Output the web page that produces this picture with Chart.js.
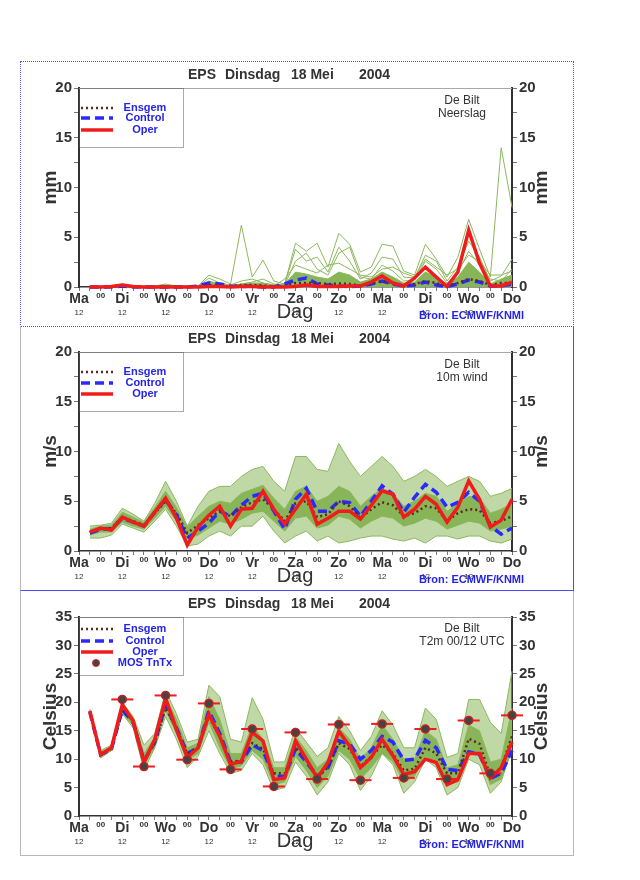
<!DOCTYPE html>
<html>
<head>
<meta charset="utf-8">
<script src="https://cdn.jsdelivr.net/npm/chart.js@4.4.1/dist/chart.umd.min.js"></script>
<style>
  body { margin: 0; background: #fff; width: 640px; height: 880px; position: relative; overflow: hidden; }
  .panel { position: absolute; left: 20px; width: 552px; height: 264px; }
  .panel canvas { position: absolute; left: 0; top: 0; }
  #p1 { top: 61px; border: 1px dotted #4a4aff; }
  #p2 { top: 326px; border-left: 1px solid #b8b8b8; border-right: 1px solid #4a4aff; border-bottom: 1px solid #4a4aff; }
  #p3 { top: 591px; border-left: 1px solid #b8b8b8; border-right: 1px solid #b8b8b8; border-bottom: 1px solid #b8b8b8; }
</style>
</head>
<body>
<div class="panel" id="p1"><canvas id="rainChart" width="552" height="264"></canvas></div>
<div class="panel" id="p2"><canvas id="windChart" width="552" height="264"></canvas></div>
<div class="panel" id="p3"><canvas id="tempChart" width="552" height="264"></canvas></div>
<script>
// forecast steps (days after Ma 12 UTC), 6-hourly
const leadDays = [0.25, 0.5, 0.75, 1, 1.25, 1.5, 1.75, 2, 2.25, 2.5, 2.75, 3, 3.25, 3.5, 3.75, 4, 4.25, 4.5, 4.75, 5,
  5.25, 5.5, 5.75, 6, 6.25, 6.5, 6.75, 7, 7.25, 7.5, 7.75, 8, 8.25, 8.5, 8.75, 9, 9.25, 9.5, 9.75, 10];
const dayNames = ['Ma', 'Di', 'Wo', 'Do', 'Vr', 'Za', 'Zo', 'Ma', 'Di', 'Wo', 'Do'];

// Neerslag (mm)
const rainOper = [0, 0, 0.05, 0.2, 0.05, 0, 0, 0, 0, 0, 0, 0.05, 0.05, 0, 0.05, 0.05, 0, 0, 0, 0.05,
  0.2, 0.05, 0.05, 0.05, 0.1, 0.1, 0.5, 1.1, 0.4, 0.1, 0.9, 2.0, 1.0, 0.05, 1.5, 5.7, 2.4, 0.1, 0.1, 0.5];
const rainControl = [0, 0, 0, 0.1, 0, 0, 0, 0, 0, 0, 0.1, 0.4, 0.3, 0.1, 0.05, 0.1, 0, 0, 0.3, 0.7,
  0.9, 0.3, 0.2, 0.1, 0.05, 0.1, 0.3, 0.6, 0.3, 0.1, 0.2, 0.5, 0.2, 0.05, 0.3, 0.7, 0.5, 0.1, 0.1, 0.3];
const rainMean = [0, 0, 0.02, 0.1, 0.02, 0, 0, 0.05, 0, 0, 0.05, 0.2, 0.15, 0.05, 0.2, 0.2, 0.15, 0.05, 0.1, 0.4,
  0.4, 0.4, 0.3, 0.35, 0.3, 0.15, 0.3, 0.6, 0.4, 0.2, 0.3, 0.6, 0.4, 0.1, 0.4, 0.8, 0.6, 0.2, 0.4, 0.4];
const rainMax = [0.05, 0.05, 0.1, 0.3, 0.1, 0.05, 0.1, 0.3, 0.1, 0.1, 0.1, 1.2, 0.8, 0.3, 6.2, 1.0, 2.7, 0.6, 0.3, 4.4,
  3.6, 4.4, 2.0, 5.4, 4.3, 1.5, 2.0, 4.3, 4.1, 1.6, 1.2, 4.3, 2.8, 1.0, 3.0, 6.8, 3.8, 1.0, 14.0, 8.0];
const rainMemberA = [0, 0, 0.05, 0.2, 0.05, 0, 0.05, 0.2, 0.05, 0, 0.05, 0.9, 0.4, 0.2, 0.6, 0.8, 0.4, 0.2, 0.3, 3.8,
  2.6, 3.0, 1.5, 4.0, 2.6, 0.8, 1.4, 3.0, 2.8, 1.0, 0.9, 3.2, 2.6, 0.6, 2.0, 4.6, 3.0, 0.6, 1.1, 2.8];
const rainMemberB = [0, 0, 0, 0.1, 0, 0, 0, 0.1, 0, 0, 0, 0.6, 0.3, 0.1, 0.3, 0.5, 0.8, 0.3, 0.2, 2.6,
  3.4, 1.8, 1.2, 3.4, 4.0, 1.0, 0.8, 2.2, 1.6, 0.6, 0.7, 2.6, 1.8, 0.4, 1.4, 3.6, 2.2, 0.8, 0.6, 1.8];
const rainMemberC = [0, 0, 0, 0.1, 0, 0, 0, 0.05, 0, 0, 0, 0.3, 0.2, 0.1, 0.2, 0.3, 0.2, 0.1, 0.8, 2.2,
  1.8, 1.4, 2.2, 2.4, 1.8, 1.2, 1.0, 1.8, 2.0, 1.4, 1.0, 2.8, 2.0, 1.2, 1.8, 3.2, 2.6, 1.2, 1.2, 1.6];
const rainCore = [0.02, 0.02, 0.05, 0.15, 0.05, 0.02, 0.02, 0.1, 0.02, 0.02, 0.05, 0.5, 0.3, 0.1, 0.3, 0.4, 0.4, 0.2, 0.3, 1.5,
  1.3, 1.0, 0.8, 1.5, 1.2, 0.5, 0.8, 1.5, 1.0, 0.4, 0.5, 1.5, 1.0, 0.3, 1.0, 2.5, 1.5, 0.3, 0.8, 1.2];

// 10m wind (m/s)
const windOper = [1.9, 2.3, 2.1, 3.4, 2.9, 2.5, 3.9, 5.3, 3.3, 0.6, 2.4, 3.6, 4.5, 2.5, 4.2, 4.3, 6.0, 4.2, 2.7, 4.2,
  5.7, 2.7, 3.3, 4.0, 4.0, 3.2, 4.6, 6.05, 5.7, 3.4, 4.2, 5.5, 4.7, 2.9, 4.4, 7.05, 5.2, 2.4, 3.1, 5.2];
const windControl = [1.8, 2.2, 2.2, 3.3, 2.9, 2.5, 3.9, 5.2, 3.6, 1.3, 2.0, 2.8, 4.0, 3.5, 4.6, 5.5, 5.8, 4.0, 2.2, 5.2,
  6.3, 4.0, 4.0, 5.0, 4.85, 3.5, 5.0, 6.55, 5.7, 3.9, 5.4, 6.7, 5.9, 4.4, 4.9, 5.9, 5.0, 2.5, 1.7, 2.3];
const windMean = [1.9, 2.2, 2.3, 3.4, 3.0, 2.6, 3.8, 5.0, 3.8, 1.8, 2.6, 3.3, 4.0, 3.5, 4.4, 4.9, 5.2, 4.2, 3.0, 4.8,
  5.0, 3.4, 3.7, 5.0, 4.5, 3.3, 4.2, 4.9, 4.6, 3.5, 3.8, 4.5, 4.3, 3.0, 3.8, 4.2, 4.1, 2.8, 3.0, 3.5];
const windMax = [2.5, 2.6, 2.8, 4.3, 3.7, 3.0, 4.8, 7.0, 5.0, 2.5, 4.5, 6.0, 6.5, 6.5, 7.5, 8.2, 8.5, 7.0, 6.0, 9.5,
  9.5, 8.2, 8.0, 10.8, 9.0, 7.5, 8.5, 9.5, 8.5, 7.0, 7.5, 8.2, 7.5, 6.5, 7.0, 7.5, 7.0, 5.5, 5.8, 6.3];
const windMin = [1.3, 1.3, 1.6, 2.7, 2.3, 1.9, 3.0, 4.2, 2.5, 0.5, 0.7, 1.5, 2.0, 1.5, 2.5, 2.5, 3.5, 2.0, 0.8, 1.5,
  2.0, 1.0, 1.5, 0.8, 1.0, 1.3, 1.5, 1.5, 1.2, 1.0, 1.3, 0.8, 1.5, 1.5, 1.2, 1.5, 1.5, 1.0, 0.8, 1.2];
const windCoreHi = [2.2, 2.5, 2.6, 3.9, 3.4, 2.9, 4.4, 6.0, 4.4, 2.4, 3.5, 4.5, 5.0, 4.8, 5.8, 6.2, 6.6, 5.3, 4.2, 6.0,
  6.5, 5.0, 5.5, 6.5, 6.0, 4.5, 5.5, 6.3, 5.8, 4.5, 5.0, 5.8, 5.5, 4.0, 4.7, 5.5, 5.3, 3.8, 4.2, 4.8];
const windCoreLo = [1.6, 1.9, 1.9, 2.9, 2.5, 2.2, 3.3, 4.5, 3.0, 1.2, 1.6, 2.3, 3.0, 2.7, 3.2, 3.8, 4.0, 3.0, 2.0, 3.3,
  3.5, 2.3, 2.6, 3.5, 3.2, 2.3, 3.0, 3.5, 3.3, 2.5, 2.8, 3.3, 3.0, 2.2, 2.6, 3.0, 2.8, 2.0, 2.2, 2.5];

// T2m (Celsius)
const tempOper = [18.5, 10.8, 12.0, 19.6, 16.7, 9.4, 13.5, 20.7, 15.2, 10.3, 12.0, 17.9, 14.0, 9.1, 9.6, 14.7, 13.2, 6.4, 6.7, 13.2,
  10.0, 6.7, 9.4, 14.9, 12.3, 8.5, 10.3, 13.5, 10.6, 7.3, 7.8, 10.0, 9.4, 5.5, 6.4, 11.0, 11.0, 6.7, 8.5, 13.0];
const tempControl = [18.3, 10.8, 11.8, 18.7, 16.5, 9.7, 13.0, 19.5, 15.5, 11.0, 12.0, 18.5, 14.5, 9.5, 9.5, 12.5, 11.5, 7.0, 7.0, 11.8,
  9.5, 7.0, 8.5, 13.2, 12.7, 10.0, 11.5, 14.0, 13.0, 9.8, 10.0, 13.3, 12.0, 8.2, 8.0, 11.3, 10.8, 6.6, 7.5, 11.5];
const tempMean = [18.3, 10.8, 11.8, 18.5, 16.8, 9.8, 12.8, 19.0, 15.5, 11.0, 12.0, 17.5, 14.0, 9.5, 9.8, 12.8, 11.8, 7.5, 7.5, 12.0,
  9.8, 7.0, 8.5, 12.8, 11.8, 8.7, 10.5, 12.5, 11.0, 8.0, 8.3, 12.0, 11.0, 7.5, 7.5, 13.6, 12.7, 7.0, 8.5, 14.0];
const tempMax = [18.8, 11.5, 12.5, 20.0, 17.5, 12.5, 14.5, 22.0, 18.0, 13.0, 13.5, 23.0, 21.0, 13.5, 13.0, 20.8, 17.0, 9.5, 9.5, 15.5,
  13.0, 10.5, 12.0, 17.5, 15.0, 11.5, 14.0, 18.5, 16.0, 12.0, 12.0, 19.0, 17.0, 10.3, 11.0, 20.5, 20.5, 16.5, 14.5, 25.5];
const tempMin = [18.0, 10.2, 11.5, 18.0, 15.5, 8.0, 12.0, 17.5, 13.5, 8.5, 10.5, 15.0, 11.0, 7.5, 8.0, 11.0, 9.0, 4.5, 5.0, 9.5,
  7.0, 3.7, 6.0, 11.0, 9.0, 4.5, 7.0, 11.0, 9.0, 4.0, 6.0, 10.0, 8.5, 3.7, 5.0, 10.0, 9.0, 4.0, 6.0, 12.0];
const tempCoreHi = [18.6, 11.2, 12.3, 19.5, 17.2, 11.0, 13.8, 21.0, 17.0, 12.0, 12.8, 21.0, 17.0, 11.0, 11.0, 16.0, 13.5, 8.5, 8.5, 14.0,
  11.5, 8.5, 10.0, 15.5, 13.5, 10.0, 12.0, 16.0, 13.5, 10.0, 10.0, 15.0, 13.5, 8.5, 9.0, 16.0, 15.0, 9.5, 10.0, 19.0];
const tempCoreLo = [18.1, 10.4, 11.6, 18.0, 16.0, 8.8, 12.2, 18.5, 14.5, 9.8, 11.0, 16.5, 12.0, 8.3, 8.8, 11.5, 10.0, 5.5, 6.0, 10.5,
  8.0, 5.0, 7.0, 11.5, 10.0, 6.5, 8.5, 11.0, 9.5, 6.0, 7.0, 10.5, 9.5, 5.5, 6.0, 11.0, 10.5, 5.5, 6.5, 11.5];
const mosDays = [1, 1.5, 2, 2.5, 3, 3.5, 4, 4.5, 5, 5.5, 6, 6.5, 7, 7.5, 8, 8.5, 9, 9.5, 10];
const mosTemp = [20.5, 8.7, 21.2, 9.9, 19.8, 8.2, 15.3, 5.2, 14.7, 6.5, 16.1, 6.3, 16.2, 6.7, 15.3, 6.5, 16.8, 7.5, 17.7];

const FONT = "'Liberation Sans', Arial, Helvetica, sans-serif";
const GREEN = '#8cb85c';
const RED = '#f01c1c';
const BLUE = '#2a2aff';
const MEANCOL = '#5e2a1c';
const INK = '#333333';

function series(xs, ys) {
  return xs.map((x, i) => ({ x: x, y: ys[i] }));
}

function lineSet(ys, style) {
  return Object.assign({ data: series(leadDays, ys), pointRadius: 0, tension: 0, clip: 6, fill: false }, style);
}

function mainSets(mean, control, oper) {
  return [
    lineSet(mean, { label: 'Ensgem', borderColor: MEANCOL, borderWidth: 2.5, borderDash: [2, 3], order: 3 }),
    lineSet(control, { label: 'Control', borderColor: BLUE, borderWidth: 3.5, borderDash: [9, 5], order: 4 }),
    lineSet(oper, { label: 'Oper', borderColor: RED, borderWidth: 3.5, order: 2 })
  ];
}

function plumeSets(max, min, hi, lo) {
  return [
    lineSet(max, { borderColor: GREEN, borderWidth: 1, fill: '+1', backgroundColor: 'rgba(140,184,92,0.55)', order: 9 }),
    lineSet(min, { borderColor: GREEN, borderWidth: 1, order: 9 }),
    lineSet(hi, { borderColor: GREEN, borderWidth: 1, fill: '+1', backgroundColor: '#88b558', order: 8 }),
    lineSet(lo, { borderColor: GREEN, borderWidth: 1, order: 8 })
  ];
}

function isDayTick(ctx) {
  return !!(ctx && ctx.tick && Number.isInteger(ctx.tick.value));
}

function panelText(p) {
  return {
    id: 'panelText',
    afterDraw(chart) {
      const ctx = chart.ctx;
      const a = chart.chartArea;
      const xs = chart.scales.x;
      ctx.save();
      // top frame of the plot
      ctx.strokeStyle = '#a8a8a8';
      ctx.lineWidth = 1;
      ctx.beginPath();
      ctx.moveTo(a.left, a.top + 0.5);
      ctx.lineTo(a.right, a.top + 0.5);
      ctx.stroke();

      ctx.fillStyle = INK;
      ctx.textBaseline = 'middle';
      ctx.textAlign = 'left';
      ctx.font = 'bold 14px ' + FONT;
      ctx.fillText('EPS', 167, 13);
      ctx.fillText('Dinsdag', 204, 13);
      ctx.fillText('18 Mei', 270, 13);
      ctx.fillText('2004', 338, 13);

      // y axis titles
      ctx.font = 'bold 19px ' + FONT;
      ctx.textAlign = 'center';
      const midY = (a.top + a.bottom) / 2;
      [30, 521].forEach(x => {
        ctx.save();
        ctx.translate(x, midY);
        ctx.rotate(-Math.PI / 2);
        ctx.fillText(p.unit, 0, 0);
        ctx.restore();
      });

      // station text
      ctx.font = '12px ' + FONT;
      ctx.fillText('De Bilt', 441, a.top + p.stationY[0]);
      ctx.fillText(p.station, 441, a.top + p.stationY[1]);

      // legend box
      ctx.strokeStyle = '#555';
      ctx.lineWidth = 1;
      ctx.setLineDash([1, 1]);
      ctx.strokeRect(a.left + 0.5, a.top + 0.5, 104, p.legendH);
      ctx.setLineDash([]);
      const items = [
        { text: 'Ensgem', color: MEANCOL, dash: [2, 3], w: 2.5 },
        { text: 'Control', color: BLUE, dash: [9, 5], w: 3.5 },
        { text: 'Oper', color: RED, dash: [], w: 3.5 }
      ];
      if (p.mos) items.push({ text: 'MOS TnTx', mos: true });
      ctx.font = 'bold 11px ' + FONT;
      items.forEach((it, i) => {
        const y = a.top + p.legendY[i];
        if (it.mos) {
          ctx.beginPath();
          ctx.arc(a.left + 17, y, 3.5, 0, Math.PI * 2);
          ctx.fillStyle = '#444';
          ctx.fill();
          ctx.strokeStyle = RED;
          ctx.lineWidth = 1;
          ctx.stroke();
        } else {
          ctx.strokeStyle = it.color;
          ctx.lineWidth = it.w;
          ctx.setLineDash(it.dash);
          ctx.beginPath();
          ctx.moveTo(a.left + 2, y);
          ctx.lineTo(a.left + 34, y);
          ctx.stroke();
          ctx.setLineDash([]);
        }
        ctx.fillStyle = '#2424e6';
        ctx.fillText(it.text, a.left + 66, y);
      });

      // 12 UTC row, axis title and source
      ctx.fillStyle = INK;
      ctx.font = '8px ' + FONT;
      dayNames.forEach((d, i) => {
        if (i < 10) ctx.fillText('12', xs.getPixelForValue(i), 251);
      });
      ctx.font = '20px ' + FONT;
      ctx.fillText('Dag', 274, 250);
      ctx.fillStyle = '#2424e6';
      ctx.font = 'bold 11px ' + FONT;
      ctx.textAlign = 'left';
      ctx.fillText('Bron: ECMWF/KNMI', 398, 254);
      ctx.restore();
    }
  };
}

function yScale(position, max, width) {
  return {
    position: position,
    min: 0,
    max: max,
    afterFit: s => { s.width = width; },
    ticks: {
      stepSize: 2.5,
      color: INK,
      padding: 2,
      font: { family: FONT, size: 15, weight: 'bold' },
      callback: v => (v % 5 === 0 ? v : '')
    },
    grid: { drawOnChartArea: false, tickLength: 5, color: '#777' },
    border: { color: INK, width: 2 }
  };
}

function makePanel(id, p) {
  new Chart(document.getElementById(id), {
    type: 'line',
    data: { datasets: p.datasets },
    options: {
      responsive: false,
      animation: false,
      layout: { padding: { top: 26, left: 0, right: 0, bottom: 0 } },
      plugins: { legend: { display: false }, tooltip: { enabled: false } },
      scales: {
        x: {
          type: 'linear',
          min: 0,
          max: 10,
          afterFit: s => { s.height = 39; },
          ticks: {
            stepSize: 0.25,
            autoSkip: false,
            maxRotation: 0,
            padding: 0,
            color: INK,
            font: ctx => ({ family: FONT, weight: 'bold', size: isDayTick(ctx) ? 14 : 8 }),
            callback: v => (Number.isInteger(v) ? dayNames[v] : (v % 1 === 0.5 ? '00' : ''))
          },
          grid: { drawOnChartArea: false, tickLength: 4, color: '#777' },
          border: { color: INK, width: 1.5 }
        },
        y: yScale('left', p.max, 58),
        y2: yScale('right', p.max, 61)
      }
    },
    plugins: [panelText(p)]
  });
}

makePanel('rainChart', {
  max: 20, unit: 'mm', station: 'Neerslag', stationY: [13, 26], legendH: 59, legendY: [20, 30, 42],
  datasets: [
    lineSet(rainMax, { borderColor: GREEN, borderWidth: 1, order: 9 }),
    lineSet(rainMemberA, { borderColor: GREEN, borderWidth: 1, order: 9 }),
    lineSet(rainMemberB, { borderColor: GREEN, borderWidth: 1, order: 9 }),
    lineSet(rainMemberC, { borderColor: GREEN, borderWidth: 1, order: 9 }),
    lineSet(rainCore, { borderColor: GREEN, borderWidth: 1, fill: 'origin', backgroundColor: '#88b558', order: 8 })
  ].concat(mainSets(rainMean, rainControl, rainOper))
});

makePanel('windChart', {
  max: 20, unit: 'm/s', station: '10m wind', stationY: [13, 26], legendH: 59, legendY: [20, 31, 42],
  datasets: plumeSets(windMax, windMin, windCoreHi, windCoreLo).concat(mainSets(windMean, windControl, windOper))
});

const tempSets = plumeSets(tempMax, tempMin, tempCoreHi, tempCoreLo).concat(mainSets(tempMean, tempControl, tempOper));
tempSets.push({
  label: 'MOS bar', data: series(mosDays, mosTemp), showLine: false, pointStyle: 'line',
  pointRadius: 11, borderColor: RED, borderWidth: 2, order: 1, clip: 12
});
tempSets.push({
  label: 'MOS TnTx', data: series(mosDays, mosTemp), showLine: false, pointStyle: 'circle',
  pointRadius: 4, backgroundColor: '#444', borderColor: '#c42020', borderWidth: 1.5, order: 0, clip: 12
});

makePanel('tempChart', {
  max: 35, unit: 'Celsius', station: 'T2m 00/12 UTC', stationY: [12, 25], legendH: 58, legendY: [12, 24, 35, 46],
  mos: true,
  datasets: tempSets
});
</script>
</body>
</html>
